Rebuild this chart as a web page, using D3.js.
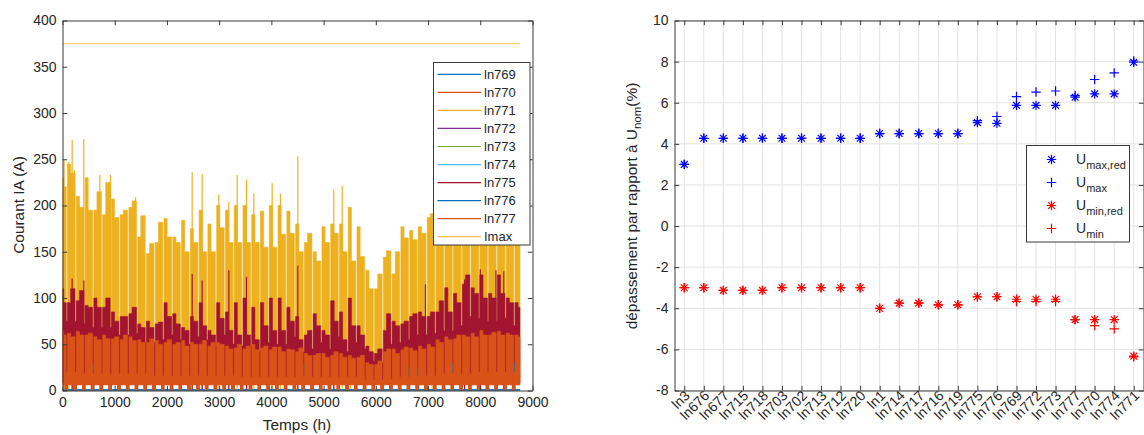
<!DOCTYPE html>
<html><head><meta charset="utf-8">
<script src="https://cdn.jsdelivr.net/npm/d3@7/dist/d3.min.js"></script>
<style>
body{margin:0;background:#fff}
svg{display:block}
text{font-family:"Liberation Sans",Arial,Helvetica,sans-serif;fill:#262626}
</style>
</head><body>
<svg id="c" width="1144" height="435"></svg>
<script>
// ---------------- LEFT PANEL DATA (envelopes) ----------------
// week 0 = hours 0-96 (Thu..Sun); week k>=1 starts Monday at hour 96+168*(k-1)
// A = top over Mon-Wed, B = top over Wed-Fri (and Sat), Sun = Sunday top
const xTicksLeft = [0,1000,2000,3000,4000,5000,6000,7000,8000,9000];
const yTicksLeft = [0,50,100,150,200,250,300,350,400];
const seriesNames = ["ln769","ln770","ln771","ln772","ln773","ln774","ln775","ln776","ln777","Imax"];
const seriesColors = ["#0072BD","#D95319","#EDB120","#7E2F8E","#77AC30","#4DBEEE","#A2142F","#0072BD","#D95319","#EDB120"];
const imaxValue = 375;
const hoursTotal = 8760;

const ln771A = [230,245,210,230,195,190,207,190,198,166,148,160,186,166,184,175,195,180,200,195,200,200,190,194,200,200,194,180,160,150,177,180,180,198,177,130,110,144,126,177,173,177,187,180,178,182,176,180,184,178,182,180,178];
const ln771B = [220,235,198,195,215,225,187,195,205,189,159,182,166,160,150,160,150,150,176,160,160,160,160,155,155,169,170,150,170,140,160,170,150,140,145,110,126,151,150,165,163,170,191,182,180,176,183,178,180,184,178,182,176];
const ln771Sun = [55,55,50,50,50,50,50,50,50,45,45,45,45,45,40,45,45,40,45,40,40,40,40,40,40,40,40,40,40,40,40,40,40,40,35,30,30,35,40,45,45,50,50,50,55,55,55,60,60,60,60,55,55];
const ln771Spikes = [[30,249],[121,247],[185,271],[230,238],[408,272],[715,233],[919,233],[1398,209],[2483,236],[2674,234],[2994,212],[3185,204],[3345,233],[3523,228],[3664,213],[4015,224],[4174,213],[4506,253],[5195,217],[5356,221],[5514,198],[6823,177],[7078,191]];

const ln775A = [110,95,97,92,100,90,85,80,83,72,75,72,95,83,68,80,95,65,95,85,95,100,90,95,100,100,90,80,60,83,65,97,85,100,70,48,40,65,75,72,80,85,80,85,111,105,115,111,125,105,125,100,95];
const ln775B = [95,110,108,90,90,100,75,80,90,68,68,74,80,72,65,75,70,60,78,65,60,60,55,70,65,65,75,55,65,70,60,75,55,70,60,42,45,83,70,75,83,80,85,97,85,95,125,105,100,100,105,95,90];
const ln775Sun = [75,75,72,68,68,68,60,60,62,52,52,55,60,55,50,58,55,48,60,50,48,48,42,52,50,50,58,42,45,52,45,58,42,52,45,32,30,50,52,55,60,60,62,65,65,70,80,78,75,75,78,70,68];
const ln775Spikes = [[185,121],[408,119],[2483,126],[2674,119],[3185,130],[3523,123],[4506,135],[5195,97],[6950,115],[7700,120],[8000,131],[8300,130],[8450,129]];

const ln777A = [65,62,64,60,58,60,56,55,58,55,52,54,52,50,54,52,50,48,52,48,46,45,50,46,44,47,45,42,40,38,40,38,40,38,36,30,28,42,45,44,46,48,50,55,58,56,60,62,65,60,64,62,60];
const ln777B = [60,58,60,62,55,56,58,60,54,52,56,50,55,52,48,50,54,52,50,45,50,48,44,48,47,42,44,46,38,40,36,42,36,35,38,28,32,45,40,47,43,45,47,52,55,60,58,58,60,63,60,60,58];
const ln777Sun = [20,20,18,18,18,18,18,18,18,18,16,16,16,16,16,16,16,16,16,16,15,15,15,15,15,15,15,15,15,15,15,15,15,15,12,12,12,12,15,15,16,16,16,18,18,18,18,20,20,20,20,20,20];

const ln776Sun = [3,3,3,30,3,3,3,3,3,3,3,3,3,3,3,3,3,3,3,3,3,3,3,3,3,3,3,30,3,3,3,3,3,3,3,3,3,3,3,25,25,3,3,3,30,3,3,3,3,3,3,30,3];
const ln776Weekday = 1;
const ln769Level = 0.4;
const floorLevels = {ln771: 10, ln775: 8, ln777: 6};
const hiddenLevels = {ln770: 0, ln772: 0, ln773: 0, ln774: 0};

// ---------------- RIGHT PANEL DATA ----------------
const lines = ["ln3","ln676","ln677","ln715","ln718","ln703","ln702","ln713","ln712","ln720","ln1","ln714","ln717","ln716","ln719","ln775","ln776","ln769","ln772","ln773","ln777","ln770","ln774","ln771"];
const uMaxRed = [3.0,4.27,4.27,4.27,4.27,4.27,4.27,4.27,4.27,4.27,4.5,4.5,4.5,4.5,4.5,5.03,5.0,5.87,5.87,5.87,6.27,6.43,6.43,7.97];
const uMax    = [3.0,4.27,4.27,4.27,4.27,4.27,4.27,4.27,4.27,4.27,4.5,4.5,4.5,4.5,4.5,5.13,5.33,6.3,6.52,6.57,6.35,7.13,7.45,8.03];
const uMinRed = [-3.0,-3.0,-3.13,-3.13,-3.13,-3.0,-3.0,-3.0,-3.0,-3.0,-4.0,-3.75,-3.75,-3.83,-3.83,-3.44,-3.44,-3.56,-3.56,-3.56,-4.55,-4.55,-4.55,-6.33];
const uMin    = [-3.0,-3.0,-3.13,-3.13,-3.13,-3.0,-3.0,-3.0,-3.0,-3.0,-4.0,-3.75,-3.75,-3.83,-3.83,-3.44,-3.44,-3.67,-3.67,-3.67,-4.55,-4.84,-5.0,-6.36];
const yTicksRight = [-8,-6,-4,-2,0,2,4,6,8,10];

// ---------------- DRAWING ----------------
const svg = d3.select("#c");
const AX = "#3a3a3a", TXT = "#262626", FT = 14, FL = 15.4;
const fmt = d => String(d);

// ===== Left panel =====
const xL = d3.scaleLinear().domain([0,9000]).range([62.5,532.5]);
const yL = d3.scaleLinear().domain([0,400]).range([390.5,20.5]);
const gL = svg.append("g");
svg.append("clipPath").attr("id","clipL").append("rect")
  .attr("x",62.5).attr("y",20.5).attr("width",470).attr("height",370);
const plotL = gL.append("g").attr("clip-path","url(#clipL)");

function weekBounds(k){
  if(k===0) return [0,24,48,72,96];
  const s = 96+168*(k-1);
  return [s, s+60, s+120, s+144, s+168];
}
const nWeeks = ln771A.length;
const area = d3.area().x(d=>xL(d.t)).y0(d=>yL(d.lo)).y1(d=>yL(d.hi)).curve(d3.curveStepAfter);
const vline = d3.line().x(d=>xL(d.t)).y(d=>yL(d.v));

function bandPoints(A, B, sun, floor, weekdayConst){
  const pts = [];
  for(let k=0;k<nWeeks;k++){
    const [s,m,wd,sat] = weekBounds(k);
    const a = A ? A[k] : weekdayConst, b = B ? B[k] : weekdayConst;
    if(s<hoursTotal) pts.push({t:s, lo:floor, hi:a});
    if(m<hoursTotal) pts.push({t:m, lo:floor, hi:b});
    if(wd<hoursTotal) pts.push({t:wd, lo:0, hi:b});
    if(sat<hoursTotal) pts.push({t:sat, lo:0, hi:sun[k]});
  }
  const last = pts[pts.length-1];
  pts.push({t:hoursTotal, lo:last.lo, hi:last.hi});
  return pts;
}
function drawBand(pts, color){
  plotL.append("path").datum(pts).attr("d",area).attr("fill",color).attr("stroke",color).attr("stroke-width",0.6);
}
function drawSpikes(spikes, color){
  plotL.selectAll(null).data(spikes).enter().append("path")
    .attr("d",d=>vline([{t:d[0],v:0},{t:d[0],v:d[1]}]))
    .attr("stroke",color).attr("stroke-width",1.2).attr("fill","none");
}
function drawFlat(level, color){
  plotL.append("path").datum([{t:0,v:level},{t:hoursTotal,v:level}]).attr("d",vline)
    .attr("stroke",color).attr("stroke-width",1.2).attr("fill","none");
}
drawFlat(ln769Level, seriesColors[0]);
drawFlat(hiddenLevels.ln770, seriesColors[1]);
drawBand(bandPoints(ln771A, ln771B, ln771Sun, floorLevels.ln771), seriesColors[2]);
drawSpikes(ln771Spikes, seriesColors[2]);
drawFlat(hiddenLevels.ln772, seriesColors[3]);
drawFlat(hiddenLevels.ln773, seriesColors[4]);
drawFlat(hiddenLevels.ln774, seriesColors[5]);
drawBand(bandPoints(ln775A, ln775B, ln775Sun, floorLevels.ln775), seriesColors[6]);
drawSpikes(ln775Spikes, seriesColors[6]);
drawBand(bandPoints(null, null, ln776Sun, 0, ln776Weekday), seriesColors[7]);
drawBand(bandPoints(ln777A, ln777B, ln777Sun, floorLevels.ln777), seriesColors[8]);
plotL.append("path").datum([{t:0,v:imaxValue},{t:hoursTotal,v:imaxValue}]).attr("d",vline)
  .attr("stroke",seriesColors[9]).attr("stroke-opacity",0.6).attr("stroke-width",1.2).attr("fill","none");

function styleAxis(g, fs){
  g.selectAll("path,line").attr("stroke",AX);
  g.selectAll("text").attr("fill",TXT).attr("font-size",fs).attr("font-family",'"Liberation Sans",Arial,sans-serif');
}
const tk = 4.7;
styleAxis(gL.append("g").attr("transform","translate(0,390.5)")
  .call(d3.axisBottom(xL).tickValues(xTicksLeft).tickSizeInner(-tk).tickSizeOuter(0).tickPadding(7).tickFormat(fmt)), FT);
styleAxis(gL.append("g").attr("transform","translate(0,20.5)")
  .call(d3.axisTop(xL).tickValues(xTicksLeft).tickSizeInner(-tk).tickSizeOuter(0).tickFormat("")), FT);
styleAxis(gL.append("g").attr("transform","translate(62.5,0)")
  .call(d3.axisLeft(yL).tickValues(yTicksLeft).tickSizeInner(-tk).tickSizeOuter(0).tickPadding(6).tickFormat(fmt)), FT);
styleAxis(gL.append("g").attr("transform","translate(532.5,0)")
  .call(d3.axisRight(yL).tickValues(yTicksLeft).tickSizeInner(-tk).tickSizeOuter(0).tickFormat("")), FT);

gL.append("text").attr("x",297).attr("y",430).attr("text-anchor","middle").attr("font-size",FL).text("Temps (h)");
gL.append("text").attr("transform","translate(24,205) rotate(-90)").attr("text-anchor","middle").attr("font-size",FL).text("Courant IA (A)");

const legL = gL.append("g");
legL.append("rect").attr("x",433.5).attr("y",62.5).attr("width",96.5).attr("height",182.5)
  .attr("fill","#fff").attr("stroke",AX).attr("stroke-width",1);
seriesNames.forEach((n,i)=>{
  const yy = 74.3 + i*18.05;
  legL.append("line").attr("x1",437.5).attr("x2",481).attr("y1",yy).attr("y2",yy)
    .attr("stroke",seriesColors[i]).attr("stroke-width",1.2);
  legL.append("text").attr("x",484).attr("y",yy).attr("dy","0.35em").attr("font-size",13).text(n);
});

// ===== Right panel =====
const xR = d3.scalePoint().domain(lines).range([674.5,1143.5]).padding(0.5);
const yR = d3.scaleLinear().domain([-8,10]).range([390.5,20.5]);
const gR = svg.append("g");
gR.append("g").selectAll("line").data(lines).enter().append("line")
  .attr("x1",d=>xR(d)).attr("x2",d=>xR(d)).attr("y1",20.5).attr("y2",390.5)
  .attr("stroke","#e3e3e3").attr("stroke-width",1);
gR.append("g").selectAll("line").data(yTicksRight).enter().append("line")
  .attr("x1",674.5).attr("x2",1143.5).attr("y1",d=>yR(d)).attr("y2",d=>yR(d))
  .attr("stroke","#e3e3e3").attr("stroke-width",1);

styleAxis(gR.append("g").attr("transform","translate(0,390.5)")
  .call(d3.axisBottom(xR).tickSizeInner(-tk).tickSizeOuter(0).tickFormat("")), FT);
styleAxis(gR.append("g").attr("transform","translate(0,20.5)")
  .call(d3.axisTop(xR).tickSizeInner(-tk).tickSizeOuter(0).tickFormat("")), FT);
styleAxis(gR.append("g").attr("transform","translate(674.5,0)")
  .call(d3.axisLeft(yR).tickValues(yTicksRight).tickSizeInner(-tk).tickSizeOuter(0).tickPadding(6).tickFormat(fmt)), FT);
styleAxis(gR.append("g").attr("transform","translate(1143.5,0)")
  .call(d3.axisRight(yR).tickValues(yTicksRight).tickSizeInner(-tk).tickSizeOuter(0).tickFormat("")), FT);
gR.append("g").selectAll("text").data(lines).enter().append("text")
  .attr("transform",d=>`translate(${xR(d)+3},${393}) rotate(-45)`)
  .attr("text-anchor","end").attr("dy","0.35em").attr("font-size",FT).text(d=>d);

const yl = gR.append("text").attr("transform","translate(637,206) rotate(-90)").attr("text-anchor","middle").attr("font-size",FL);
yl.append("tspan").text("dépassement par rapport à U");
yl.append("tspan").attr("font-size",FL*0.75).attr("dy",4).text("nom");
yl.append("tspan").attr("dy",-4).text("(%)");

// MATLAB-style '*' marker (+ overlaid with x) and '+' marker
function asterisk(g, cx, cy, r, color){
  const d = r*0.72;
  const p = `M${cx},${cy-r}L${cx},${cy+r}M${cx-r},${cy}L${cx+r},${cy}M${cx-d},${cy-d}L${cx+d},${cy+d}M${cx-d},${cy+d}L${cx+d},${cy-d}`;
  g.append("path").attr("d",p).attr("stroke",color).attr("stroke-width",1.2).attr("fill","none");
}
function plus(g, cx, cy, r, color){
  g.append("path").attr("d",`M${cx},${cy-r}L${cx},${cy+r}M${cx-r},${cy}L${cx+r},${cy}`)
    .attr("stroke",color).attr("stroke-width",1.2).attr("fill","none");
}
const gm = gR.append("g");
lines.forEach((c,i)=>asterisk(gm, xR(c), yR(uMaxRed[i]), 4.7, "#0000FF"));
lines.forEach((c,i)=>plus(gm, xR(c), yR(uMax[i]), 4.7, "#0000FF"));
lines.forEach((c,i)=>asterisk(gm, xR(c), yR(uMinRed[i]), 4.7, "#FF0000"));
lines.forEach((c,i)=>plus(gm, xR(c), yR(uMin[i]), 4.7, "#FF0000"));

const legR = gR.append("g");
legR.append("rect").attr("x",1026.5).attr("y",145.5).attr("width",103).attr("height",96.5)
  .attr("fill","#fff").attr("stroke",AX).attr("stroke-width",1);
const legItems = [["max,red","ast","#0000FF"],["max","plus","#0000FF"],["min,red","ast","#FF0000"],["min","plus","#FF0000"]];
legItems.forEach((it,i)=>{
  const yy = 159.5 + i*23;
  if(it[1]==="ast") asterisk(legR, 1051.5, yy, 4.7, it[2]); else plus(legR, 1051.5, yy, 4.7, it[2]);
  const t = legR.append("text").attr("x",1076).attr("y",yy+4).attr("font-size",14);
  t.append("tspan").text("U");
  t.append("tspan").attr("font-size",11).attr("dy",5).text(it[0]);
});
</script>
</body></html>
